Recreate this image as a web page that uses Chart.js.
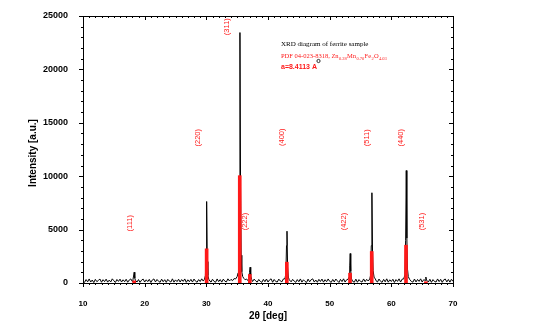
<!DOCTYPE html>
<html>
<head>
<meta charset="utf-8">
<script src="https://cdn.jsdelivr.net/npm/chart.js@4.4.1/dist/chart.umd.min.js"></script>
<style>
    html, body { margin: 0; padding: 0; background: #fff; }
    #wrap { width: 541px; height: 328px; position: relative; }
</style>
</head>
<body>
<div id="wrap"><canvas id="xrdChart"></canvas></div>
<script>
// Measured scan: [2theta, intensity]
const scanPoints = [
    [10.00, 180], [10.25, 60], [10.50, 320], [10.75, 110], [11.00, 380], [11.25, 90], [11.50, 280], [11.75, 40],
    [12.00, 340], [12.25, 120], [12.50, 250], [12.75, 370], [13.00, 70], [13.25, 310], [13.50, 130], [13.75, 360],
    [14.00, 80], [14.25, 270], [14.50, 100], [14.75, 390], [15.00, 210], [15.25, 50], [15.50, 330], [15.75, 150],
    [16.00, 360], [16.25, 90], [16.50, 300], [16.75, 120], [17.00, 350], [17.25, 70], [17.50, 280], [17.75, 380],
    [18.00, 140], [18.10, 300], [18.20, 650], [18.30, 1010], [18.40, 450], [18.50, 260], [18.75, 90],
    [19.00, 320], [19.25, 60], [19.50, 270], [19.75, 370], [20.00, 90], [20.25, 300], [20.50, 130], [20.75, 340],
    [21.00, 50], [21.25, 290], [21.50, 380], [21.75, 100], [22.00, 330], [22.25, 160], [22.50, 70], [22.75, 360],
    [23.00, 120], [23.25, 310], [23.50, 60], [23.75, 340], [24.00, 180], [24.25, 90], [24.50, 390], [24.75, 80],
    [25.00, 290], [25.25, 130], [25.50, 350], [25.75, 90], [26.00, 320], [26.25, 150], [26.50, 380], [26.75, 60],
    [27.00, 300], [27.25, 120], [27.50, 340], [27.75, 90], [28.00, 370], [28.25, 170], [28.50, 70], [28.75, 320],
    [29.00, 140], [29.25, 390], [29.50, 180], [29.70, 350], [29.85, 700], [29.95, 2400], [30.05, 7630], [30.15, 2000],
    [30.25, 700], [30.40, 350], [30.60, 160], [30.75, 90], [31.00, 350], [31.25, 150], [31.50, 70], [31.75, 380],
    [32.00, 130], [32.25, 320], [32.50, 80], [32.75, 360], [33.00, 170], [33.25, 100], [33.50, 390], [33.75, 190],
    [34.00, 340], [34.25, 220], [34.50, 410], [34.75, 380], [35.00, 600], [35.15, 950], [35.25, 2200], [35.35, 8000],
    [35.45, 23450], [35.55, 9000], [35.65, 2600], [35.75, 1050], [35.90, 600], [36.10, 420], [36.30, 300], [36.50, 380],
    [36.75, 220], [36.90, 500], [37.00, 1000], [37.10, 1480], [37.20, 700], [37.35, 330], [37.50, 140], [37.75, 360],
    [38.00, 200], [38.25, 80], [38.50, 330], [38.75, 150], [39.00, 60], [39.25, 340], [39.50, 120], [39.75, 370],
    [40.00, 90], [40.25, 290], [40.50, 390], [40.75, 70], [41.00, 330], [41.25, 140], [41.50, 90], [41.75, 360],
    [42.00, 190], [42.25, 110], [42.50, 380], [42.75, 400], [42.90, 900], [43.00, 3500], [43.08, 4850], [43.18, 1500],
    [43.30, 550], [43.45, 300], [43.75, 110], [44.00, 340], [44.25, 170], [44.50, 60], [44.75, 320], [45.00, 120],
    [45.25, 380], [45.50, 80], [45.75, 300], [46.00, 150], [46.25, 50], [46.50, 360], [46.75, 110], [47.00, 310],
    [47.25, 390], [47.50, 90], [47.75, 280], [48.00, 70], [48.25, 340], [48.50, 140], [48.75, 370], [49.00, 80],
    [49.25, 310], [49.50, 120], [49.75, 380], [50.00, 160], [50.25, 60], [50.50, 330], [50.75, 100], [51.00, 370],
    [51.25, 200], [51.50, 50], [51.75, 340], [52.00, 130], [52.25, 390], [52.50, 90], [52.75, 300], [53.00, 360],
    [53.15, 550], [53.25, 1600], [53.33, 2760], [53.42, 1100], [53.55, 380], [53.75, 140], [54.00, 80], [54.25, 360],
    [54.50, 70], [54.75, 320], [55.00, 150], [55.25, 90], [55.50, 380], [55.75, 130], [56.00, 340], [56.25, 190],
    [56.50, 380], [56.65, 750], [56.75, 3500], [56.85, 8450], [56.95, 3000], [57.05, 1150], [57.20, 550], [57.40, 380],
    [57.60, 150], [57.75, 90], [58.00, 370], [58.25, 160], [58.50, 60], [58.75, 340], [59.00, 110], [59.25, 390],
    [59.50, 80], [59.75, 300], [60.00, 140], [60.25, 350], [60.50, 50], [60.75, 320], [61.00, 150], [61.25, 390],
    [61.50, 90], [61.75, 360], [62.00, 380], [62.20, 750], [62.32, 4000], [62.42, 10530], [62.52, 4200], [62.62, 1300],
    [62.75, 600], [62.95, 350], [63.25, 140], [63.50, 80], [63.75, 370], [64.00, 100], [64.25, 330], [64.50, 150],
    [64.75, 390], [65.00, 90], [65.25, 310], [65.50, 240], [65.60, 560], [65.70, 280], [66.00, 90], [66.25, 350],
    [66.50, 60], [66.75, 320], [67.00, 140], [67.25, 90], [67.50, 380], [67.75, 130], [68.00, 340], [68.25, 60],
    [68.50, 300], [68.75, 370], [69.00, 100], [69.25, 330], [69.50, 80], [69.75, 350], [70.00, 150]
];

// Reference pattern PDF 04-023-8318
const refAngles = [18.3, 30.05, 35.42, 37.05, 43.05, 53.3, 56.82, 62.38, 65.6];
const refIntensity = [200, 3200, 10050, 800, 1950, 920, 2950, 3540, 120];

// hkl labels
const hklLabels = ['(111)', '(220)', '(311)', '(222)', '(400)', '(422)', '(511)', '(440)', '(531)'];
const hklAngles = [17.6, 28.7, 33.35, 36.3, 42.3, 52.35, 56.0, 61.5, 64.9];
const hklHeights = [5600, 13600, 24000, 5750, 13650, 5750, 13600, 13600, 5750];

const xTicks = [10, 20, 30, 40, 50, 60, 70];
const yTicks = [0, 5000, 10000, 15000, 20000, 25000];

const RED = 'rgb(255, 25, 25)';

// frame, ticks, titles and annotations in the Origin style
const decorPlugin = {
    id: 'decor',
    afterDraw(chart) {
        const ctx = chart.ctx;
        const a = chart.chartArea;
        const xs = chart.scales.x;
        const ys = chart.scales.y;
        ctx.save();
        ctx.strokeStyle = '#000';
        ctx.lineWidth = 1;
        ctx.strokeRect(a.left + 0.5, a.top + 0.5, a.right - a.left, a.bottom - a.top);

        ctx.beginPath();
        for (let v = 10; v <= 70; v += 1) {
            const px = Math.round(xs.getPixelForValue(v)) + 0.5;
            const len = v % 10 === 0 ? 4 : 2;
            ctx.moveTo(px, a.bottom); ctx.lineTo(px, a.bottom + len);
            ctx.moveTo(px, a.top); ctx.lineTo(px, a.top + len);
        }
        for (let v = 0; v <= 25000; v += 1000) {
            const py = Math.round(ys.getPixelForValue(v)) + 0.5;
            const len = v % 5000 === 0 ? 4 : 2;
            ctx.moveTo(a.left, py); ctx.lineTo(a.left - len, py);
            ctx.moveTo(a.right, py); ctx.lineTo(a.right - len, py);
        }
        ctx.stroke();

        // axis titles
        ctx.fillStyle = '#000';
        ctx.textAlign = 'center';
        ctx.textBaseline = 'middle';
        ctx.font = 'bold 10px "Liberation Sans", Arial, sans-serif';
        ctx.fillText('2\u03B8 [deg]', (a.left + a.right) / 2, 316);
        ctx.save();
        ctx.translate(33, 153);
        ctx.rotate(-Math.PI / 2);
        ctx.fillText('Intensity [a.u.]', 0, 0);
        ctx.restore();

        // hkl labels
        ctx.fillStyle = RED;
        ctx.font = '7.5px "Liberation Sans", Arial, sans-serif';
        hklLabels.forEach(function(lbl, i) {
            ctx.save();
            ctx.translate(xs.getPixelForValue(hklAngles[i]), ys.getPixelForValue(hklHeights[i]));
            ctx.rotate(-Math.PI / 2);
            ctx.fillText(lbl, 0, 0);
            ctx.restore();
        });

        // annotation block
        ctx.textAlign = 'left';
        ctx.textBaseline = 'alphabetic';
        ctx.fillStyle = '#000';
        ctx.font = '7px "Liberation Serif", "Times New Roman", serif';
        ctx.fillText('XRD diagram of ferrite sample', 281, 46);

        const parts = [
            ['PDF 04-023-8318, Zn', false], ['0.28', true], ['Mn', false], ['0.70', true],
            ['Fe', false], ['2', true], ['O', false], ['4.03', true]
        ];
        let x = 281;
        ctx.fillStyle = RED;
        parts.forEach(function(p) {
            ctx.font = (p[1] ? '4.5px' : '6.5px') + ' "Liberation Serif", "Times New Roman", serif';
            ctx.fillText(p[0], x, p[1] ? 60 : 58);
            x += ctx.measureText(p[0]).width + 0.3;
        });

        ctx.font = 'bold 7px "Liberation Sans", Arial, sans-serif';
        ctx.fillText('a=8.4113 A', 281, 69);
        const aw = ctx.measureText('a=8.4113 A').width;
        ctx.strokeStyle = '#000';
        ctx.lineWidth = 0.8;
        ctx.beginPath();
        ctx.arc(281 + aw + 1.5, 61, 1.6, 0, Math.PI * 2);
        ctx.stroke();
        ctx.restore();
    }
};

const tickFont = { family: '"Liberation Sans", Arial, sans-serif', size: 8, weight: 'bold' };

new Chart(document.getElementById('xrdChart').getContext('2d'), {
    type: 'line',
    data: {
        datasets: [{
            type: 'bar',
            label: 'PDF 04-023-8318',
            data: refAngles.map(function(t, i) { return { x: t, y: refIntensity[i] }; }),
            backgroundColor: RED,
            barThickness: 3,
            order: 0
        }, {
            type: 'line',
            label: 'Scan',
            data: scanPoints.map(function(p) { return { x: p[0], y: p[1] }; }),
            borderColor: '#000',
            borderWidth: 1,
            pointRadius: 0,
            tension: 0,
            fill: false,
            order: 1
        }]
    },
    options: {
        responsive: true,
        maintainAspectRatio: false,
        animation: false,
        layout: { padding: { top: 16, right: 88, left: 0, bottom: 0 } },
        plugins: { legend: { display: false }, tooltip: { enabled: false } },
        scales: {
            x: {
                type: 'linear',
                min: 10,
                max: 70,
                offset: false,
                grid: { display: false },
                border: { display: false },
                afterBuildTicks: function(s) { s.ticks = xTicks.map(function(v) { return { value: v }; }); },
                afterFit: function(s) { s.height = 45; },
                ticks: { font: tickFont, color: '#000', padding: 8, maxRotation: 0,
                         callback: function(v) { return String(v); } }
            },
            y: {
                min: 0,
                max: 25000,
                grid: { display: false },
                border: { display: false },
                afterBuildTicks: function(s) { s.ticks = yTicks.map(function(v) { return { value: v }; }); },
                afterFit: function(s) { s.width = 83; },
                ticks: { font: { family: tickFont.family, size: 9, weight: 'bold' }, color: '#000', padding: 7,
                         callback: function(v) { return String(v); } }
            }
        }
    },
    plugins: [decorPlugin]
});
</script>
</body>
</html>
